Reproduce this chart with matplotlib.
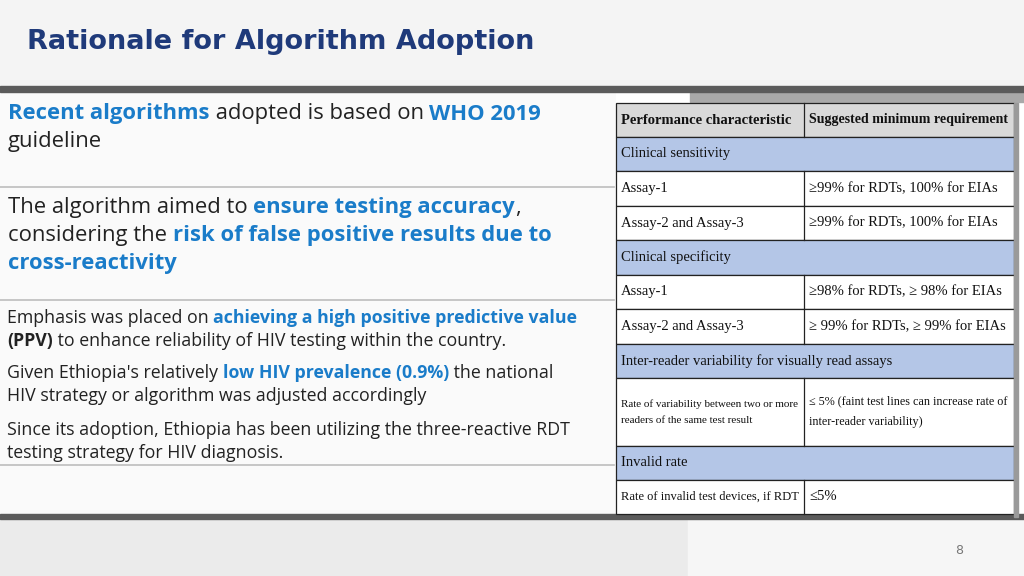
import matplotlib.pyplot as plt
from matplotlib.patches import Rectangle

# conteudo do slide
titulo = "Rationale for Algorithm Adoption"
azul = "#1a7cc9"
preto = "#222222"

# cada bloco: lista de linhas, cada linha = lista de (texto, cor, negrito)
bloco1 = [
    [("Recent algorithms", azul, True), (" adopted is based on ", preto, False), ("WHO 2019", azul, True)],
    [("guideline", preto, False)],
]
bloco2 = [
    [("The algorithm aimed to ", preto, False), ("ensure testing accuracy", azul, True), (",", preto, False)],
    [("considering the ", preto, False), ("risk of false positive results due to", azul, True)],
    [("cross-reactivity", azul, True)],
]
bloco3 = [
    [("Emphasis was placed on ", preto, False), ("achieving a high positive predictive value", azul, True)],
    [("(PPV)", preto, True), (" to enhance reliability of HIV testing within the country.", preto, False)],
    [("Given Ethiopia's relatively ", preto, False), ("low HIV prevalence (0.9%)", azul, True), (" the national", preto, False)],
    [("HIV strategy or algorithm was adjusted accordingly", preto, False)],
    [("Since its adoption, Ethiopia has been utilizing the three-reactive RDT", preto, False)],
    [("testing strategy for HIV diagnosis.", preto, False)],
]

# tabela: (coluna1, coluna2, tipo) tipo: h=cabecalho, s=secao, n=normal
tabela = [
    ("Performance characteristic", "Suggested minimum requirement", "h"),
    ("Clinical sensitivity", "", "s"),
    ("Assay-1", "≥99% for RDTs, 100% for EIAs", "n"),
    ("Assay-2 and Assay-3", "≥99% for RDTs, 100% for EIAs", "n"),
    ("Clinical specificity", "", "s"),
    ("Assay-1", "≥98% for RDTs, ≥ 98% for EIAs", "n"),
    ("Assay-2 and Assay-3", "≥ 99% for RDTs, ≥ 99% for EIAs", "n"),
    ("Inter-reader variability for visually read assays", "", "s"),
    ("Rate of variability between two or more\nreaders of the same test result",
     "≤ 5% (faint test lines can increase rate of\ninter-reader variability)", "n"),
    ("Invalid rate", "", "s"),
    ("Rate of invalid test devices, if RDT", "≤5%", "n"),
]
linhas_y = [103, 137, 171, 206, 240, 275, 309, 344, 378, 446, 480, 514]

fig = plt.figure(figsize=(10.24, 5.76), dpi=100)
ax = fig.add_axes([0, 0, 1, 1])
ax.set_xlim(0, 1024)
ax.set_ylim(576, 0)
ax.axis("off")

# fundos
ax.add_patch(Rectangle((0, 0), 1024, 88, color="#f4f4f4"))
ax.add_patch(Rectangle((0, 92), 616, 422, color="#fafafa"))
ax.add_patch(Rectangle((616, 92), 408, 422, color="#ffffff"))
ax.add_patch(Rectangle((690, 92), 334, 10, color="#a9a9a9"))
ax.add_patch(Rectangle((0, 519), 688, 57, color="#ebebeb"))
ax.add_patch(Rectangle((688, 519), 336, 57, color="#f6f6f6"))
ax.add_patch(Rectangle((0, 86), 1024, 6, color="#5b5b5b"))
ax.add_patch(Rectangle((0, 514), 1024, 5, color="#5b5b5b"))
for y in [187, 300, 465]:
    ax.plot([0, 614], [y, y], color="#bdbdbd", lw=1.2)

ax.text(27, 42, titulo, color="#1f3a7a", fontsize=19.5, fontweight="bold",
        fontfamily="DejaVu Sans", va="center")
ax.text(955, 551, "8", color="#777777", fontsize=9, va="center")

fig.canvas.draw()
renderer = fig.canvas.get_renderer()


def escreve(bloco, x0, ys, tamanho):
    for linha, y in zip(bloco, ys):
        x = x0
        for txt, cor, neg in linha:
            t = ax.text(x, y, txt, color=cor, fontsize=tamanho, va="center",
                        fontfamily="Open Sans", fontweight="bold" if neg else "normal")
            bb = t.get_window_extent(renderer)
            x = x + bb.width  # eixo em pixels, 1 unidade = 1 pixel


escreve(bloco1, 8, [114, 142], 15.8)
escreve(bloco2, 8, [208, 236, 264], 15.8)
escreve(bloco3, 7, [318, 341, 373, 396, 430, 453], 12.8)


def celula(x, y, txt, largura, neg):
    # encolhe a fonte ate caber na coluna
    tam = 10.5
    while True:
        t = ax.text(x, y, txt, fontsize=tam, fontfamily="Liberation Serif", va="center",
                    color="#111111", linespacing=2.0, fontweight="bold" if neg else "normal")
        if t.get_window_extent(renderer).width <= largura or tam < 6:
            return
        t.remove()
        tam -= 0.25


# tabela
x0, xm, x1 = 616, 804, 1014
cores = {"h": "#d9d9d9", "s": "#b4c6e7", "n": "#ffffff"}
for i, (c1, c2, tipo) in enumerate(tabela):
    ya, yb = linhas_y[i], linhas_y[i + 1]
    ax.add_patch(Rectangle((x0, ya), x1 - x0, yb - ya, facecolor=cores[tipo],
                           edgecolor="#222222", lw=0.9))
    if tipo != "s":
        ax.plot([xm, xm], [ya, yb], color="#222222", lw=0.9)
        celula(x0 + 5, (ya + yb) / 2, c1, xm - x0 - 10, tipo == "h")
        celula(xm + 5, (ya + yb) / 2, c2, x1 - xm - 10, tipo == "h")
    else:
        celula(x0 + 5, (ya + yb) / 2, c1, x1 - x0 - 10, False)
ax.add_patch(Rectangle((1014, 103), 4, 414, color="#9a9a9a"))

fig.savefig("out.png", dpi=100)
